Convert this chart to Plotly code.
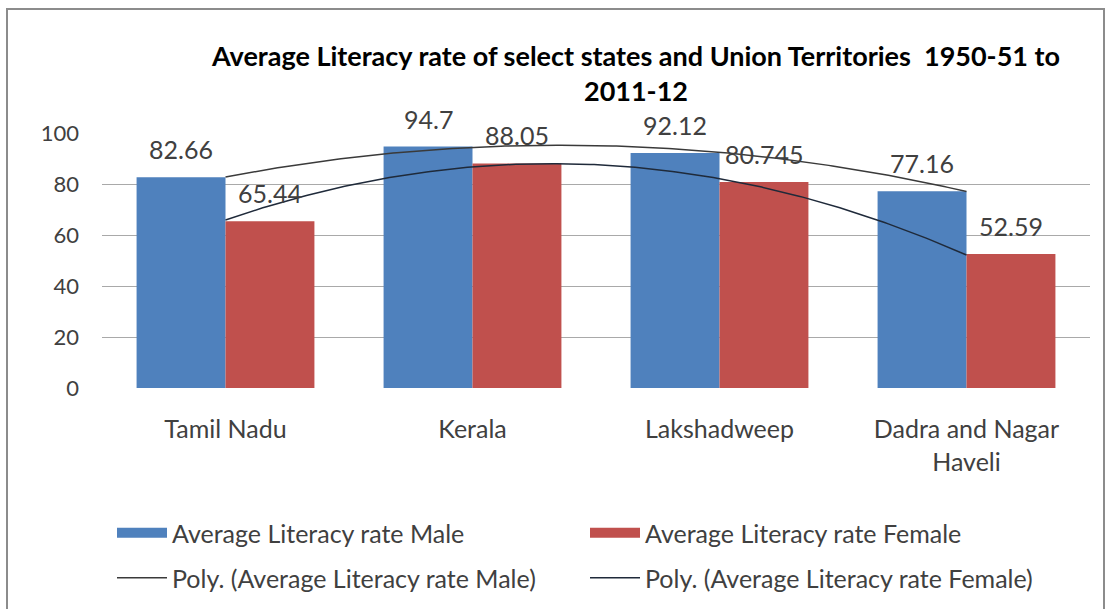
import numpy as np
import plotly.graph_objects as go

categories = ["Tamil Nadu", "Kerala", "Lakshadweep", "Dadra and Nagar<br>Haveli"]
male = [82.66, 94.7, 92.12, 77.16]
female = [65.44, 88.05, 80.745, 52.59]
male_labels = ["82.66", "94.7", "92.12", "77.16"]
female_labels = ["65.44", "88.05", "80.745", "52.59"]
y_ticks = [0, 20, 40, 60, 80, 100]

W, H = 1107, 609
ML, MR, MT, MB = 102, 17, 133, 221
PW, PH = W - ML - MR, H - MT - MB

def px_x(x):
    return (x - ML) / PW

def px_y(y):
    return (H - MB - y) / PH

FONT = "Lato"
TXT = "#404040"
BLUE = "#4F81BD"
RED = "#C0504D"
BARGAP = 0.28
ENTRY_W = 408

xs = np.arange(len(categories))
fig = go.Figure()
fig.add_trace(go.Bar(x=xs, y=male, name="Average Literacy rate Male",
                     marker=dict(color=BLUE, line=dict(width=0)), showlegend=False))
fig.add_trace(go.Bar(x=xs, y=female, name="Average Literacy rate Female",
                     marker=dict(color=RED, line=dict(width=0)), showlegend=False))
# legend swatches (wide rectangles like the spreadsheet legend)
fig.add_trace(go.Scatter(x=[None], y=[None], mode="lines", name="Average Literacy rate Male",
                         line=dict(color=BLUE, width=13), legend="legend", hoverinfo="skip"))
fig.add_trace(go.Scatter(x=[None], y=[None], mode="lines", name="Average Literacy rate Female",
                         line=dict(color=RED, width=13), legend="legend", hoverinfo="skip"))

# polynomial (order 2) trendlines as in the spreadsheet chart
xx = np.linspace(0, len(categories) - 1, 200)
pm = np.polyfit(xs, male, 2)
pf = np.polyfit(xs, female, 2)
fig.add_trace(go.Scatter(x=xx, y=np.polyval(pm, xx), mode="lines",
                         name="Poly. (Average Literacy rate Male)",
                         line=dict(color="#3a3a3a", width=1.5), legend="legend2"))
fig.add_trace(go.Scatter(x=xx, y=np.polyval(pf, xx), mode="lines",
                         name="Poly. (Average Literacy rate Female)",
                         line=dict(color="#1f2a3a", width=1.5), legend="legend2"))

bw = (1 - BARGAP) / 2
annotations = []
for i in range(len(categories)):
    annotations.append(dict(x=xs[i] - bw / 2, y=male[i], text=male_labels[i], xref="x", yref="y",
                            showarrow=False, yanchor="bottom", yshift=11,
                            font=dict(family=FONT, size=25, color=TXT)))
    annotations.append(dict(x=xs[i] + bw / 2, y=female[i], text=female_labels[i], xref="x", yref="y",
                            showarrow=False, yanchor="bottom", yshift=11,
                            font=dict(family=FONT, size=25, color=TXT)))

fig.update_layout(
    width=W, height=H,
    margin=dict(l=ML, r=MR, t=MT, b=MB, autoexpand=False),
    paper_bgcolor="white", plot_bgcolor="white",
    barmode="group", bargap=BARGAP, bargroupgap=0,
    title=dict(text="Average Literacy rate of select states and Union Territories  1950-51 to<br>2011-12",
               x=636 / W, xanchor="center", xref="container",
               y=1 - 66 / H, yanchor="top", yref="container",
               font=dict(family=FONT, size=27, color="black", weight="bold")),
    xaxis=dict(range=[-0.5, len(categories) - 0.5], tickvals=list(xs), ticktext=categories,
               showgrid=False, zeroline=False, showline=False, ticks="",
               ticklabelstandoff=24,
               tickfont=dict(family=FONT, size=25, color=TXT)),
    yaxis=dict(range=[0, 100], tickvals=y_ticks, showgrid=True, gridcolor="#a9a9a9", gridwidth=1,
               zeroline=False, showline=False, ticks="", ticklabelstandoff=22,
               tickfont=dict(family=FONT, size=22, color=TXT)),
    legend=dict(orientation="h", x=px_x(112), y=px_y(510), xanchor="left", yanchor="top",
                entrywidth=ENTRY_W, entrywidthmode="pixels", itemwidth=50,
                font=dict(family=FONT, size=25, color=TXT), bgcolor="rgba(0,0,0,0)"),
    legend2=dict(orientation="h", x=px_x(112), y=px_y(555), xanchor="left", yanchor="top",
                 entrywidth=ENTRY_W, entrywidthmode="pixels", itemwidth=50,
                 font=dict(family=FONT, size=25, color=TXT), bgcolor="rgba(0,0,0,0)"),
    annotations=annotations,
    shapes=[dict(type="rect", xref="paper", yref="paper",
                 x0=px_x(7), x1=px_x(1104), y0=px_y(H + 5), y1=px_y(9),
                 line=dict(color="#8c8c8c", width=2), fillcolor="rgba(0,0,0,0)", layer="below")],
    showlegend=True,
)

fig.write_html("out.html")
